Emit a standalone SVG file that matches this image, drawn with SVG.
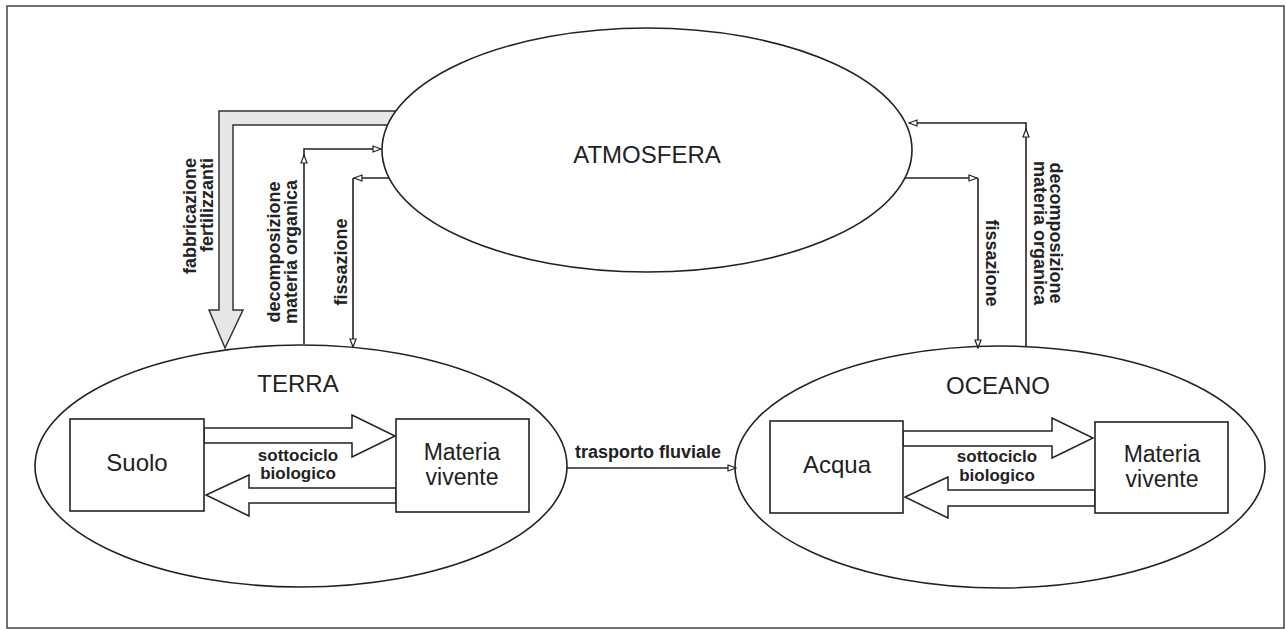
<svg xmlns="http://www.w3.org/2000/svg" width="1286" height="629" viewBox="0 0 1286 629">
<defs>
<marker id="ah" markerWidth="10" markerHeight="8" refX="9" refY="4" orient="auto" markerUnits="userSpaceOnUse">
<path d="M1,1 L9,4 L1,7 Z" fill="#fff" stroke="#222" stroke-width="1.2"/>
</marker>
<style>
.bd{fill:none;stroke:#444;stroke-width:1.5}
.el{fill:#fff;stroke:#222;stroke-width:1.6}
.bx{fill:#fff;stroke:#222;stroke-width:1.6}
.ba{fill:#fff;stroke:#222;stroke-width:1.5;stroke-linejoin:miter}
.fa{fill:#e6e6e6;stroke:#333;stroke-width:1.5}
.ln{fill:none;stroke:#222;stroke-width:1.6;marker-end:url(#ah)}
.big{font-family:"Liberation Sans",Arial,sans-serif;font-size:24px;fill:#222;text-anchor:middle}
.mv{font-family:"Liberation Sans",Arial,sans-serif;font-size:23px;fill:#222;text-anchor:middle}
.lb{font-family:"Liberation Sans",Arial,sans-serif;font-size:18px;font-weight:bold;fill:#222;text-anchor:middle}
.sb{font-family:"Liberation Sans",Arial,sans-serif;font-size:17px;font-weight:bold;fill:#222;text-anchor:middle}
</style>
</defs>
<rect class="bd" x="7" y="6" width="1277" height="622"/>
<g id="connectors">
<path class="fa" d="M400,111 H219 V310 H209 L225,348 L243,310 H233 V125 H400 Z"/>
<path class="ln" d="M304,344 V155"/>
<path class="ln" d="M304,156 V149 H381"/>
<path class="ln" d="M390,178 H354"/>
<path class="ln" d="M353,178 V347"/>
<path class="ln" d="M1026,347 V129"/>
<path class="ln" d="M1026,130 V123 H909"/>
<path class="ln" d="M904,178 H977"/>
<path class="ln" d="M978,178 V348"/>
<path class="ln" d="M567,468 H736"/>
<polygon class="ba" points="204,428 352,428 352,415 395,436 352,457 352,443 204,443"/>
<polygon class="ba" points="396,488 249,488 249,475 206,495 249,516 249,503 396,503"/>
<polygon class="ba" points="903,431 1052,431 1052,418 1093,438 1052,458 1052,446 903,446"/>
<polygon class="ba" points="1095,490 948,490 948,477 905,497 948,518 948,506 1095,506"/>
<text class="lb" transform="translate(196,158) rotate(-90)" style="text-anchor:end">fabbricazione</text>
<text class="lb" transform="translate(213,158) rotate(-90)" style="text-anchor:end">fertilizzanti</text>
<text class="lb" transform="translate(280,252) rotate(-90)">decomposizione</text>
<text class="lb" transform="translate(297,252) rotate(-90)">materia organica</text>
<text class="lb" transform="translate(347,262) rotate(-90)">fissazione</text>
<text class="lb" transform="translate(1050,233) rotate(90)">decomposizione</text>
<text class="lb" transform="translate(1034,233) rotate(90)">materia organica</text>
<text class="lb" transform="translate(986,263) rotate(90)">fissazione</text>
<text class="lb" x="648" y="458">trasporto fluviale</text>
<text class="sb" x="298" y="461">sottociclo</text>
<text class="sb" x="298" y="479">biologico</text>
<text class="sb" x="997" y="462">sottociclo</text>
<text class="sb" x="997" y="481">biologico</text>
</g>
<g id="atmosfera">
<ellipse class="el" cx="647" cy="150" rx="265" ry="122"/>
<text class="big" x="647" y="163">ATMOSFERA</text>
</g>
<g id="terra">
<ellipse class="el" cx="301" cy="466" rx="266" ry="121" style="fill:none"/>
<text class="big" x="298" y="392">TERRA</text>
</g>
<g id="oceano">
<ellipse class="el" cx="1000" cy="467" rx="265" ry="121" style="fill:none"/>
<text class="big" x="998" y="394">OCEANO</text>
</g>
<g id="suolo">
<rect class="bx" x="70" y="419" width="134" height="92"/>
<text class="big" x="137" y="471">Suolo</text>
</g>
<g id="materia-terra">
<rect class="bx" x="396" y="419" width="133" height="93"/>
<text class="mv" x="462" y="460">Materia</text>
<text class="mv" x="462" y="485">vivente</text>
</g>
<g id="acqua">
<rect class="bx" x="770" y="421" width="133" height="92"/>
<text class="big" x="837" y="473">Acqua</text>
</g>
<g id="materia-oceano">
<rect class="bx" x="1095" y="422" width="133" height="91"/>
<text class="mv" x="1162" y="462">Materia</text>
<text class="mv" x="1162" y="487">vivente</text>
</g>
</svg>
